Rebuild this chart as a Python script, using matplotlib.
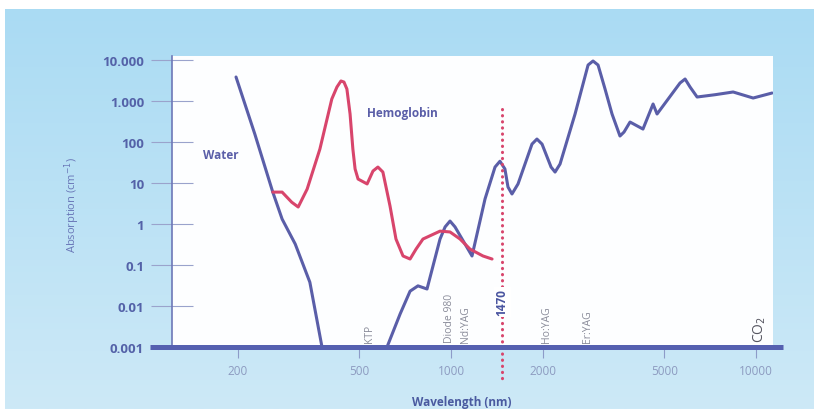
import numpy as np
import matplotlib
matplotlib.use("Agg")
import matplotlib.pyplot as plt

plt.rcParams['font.family'] = ['Open Sans', 'DejaVu Sans']

# water absorption (wavelength nm, absorption cm^-1)
water_nm = [197, 227, 260, 279, 308, 344, 377, 616, 680, 733, 778, 833, 919, 955, 991, 1029,
            1170, 1291, 1392, 1445, 1500, 1535, 1582, 1656, 1840, 1910, 1985, 2125, 2190,
            2274, 2547, 2810, 2917, 3030, 3194, 3367, 3575, 3686, 3857, 4253,
            4590, 4730, 5625, 5845, 6070, 6400, 7330, 8400, 9770, 11270]
water_abs = [3850, 157, 6.0, 1.32, 0.325, 0.038, 0.001, 0.001, 0.0064, 0.023, 0.031, 0.026,
             0.43, 0.85, 1.18, 0.85, 0.166, 4.1, 24.5, 34, 22, 8, 5.4, 9.5, 89, 118, 89,
             24.5, 18.5, 29, 482, 7550, 9460, 7550, 1960, 482, 140, 175, 307, 207,
             845, 482, 2750, 3440, 2190, 1252, 1425, 1660, 1183, 1567]

# hemoglobin absorption
hb_nm = [260, 279, 300, 315, 337, 371, 406, 422, 435, 445, 455, 466, 476, 484, 495, 530,
         554, 575, 597, 630, 659, 695, 733, 767, 808, 919, 991, 1069, 1152, 1271, 1361]
hb_abs = [6.0, 6.0, 3.4, 2.6, 7.1, 67, 1120, 2190, 3080, 2900, 1960, 482, 67, 22, 12.5, 9.5,
          19.6, 24.5, 18.5, 2.75, 0.43, 0.166, 0.14, 0.245, 0.43, 0.67, 0.64, 0.43, 0.245,
          0.166, 0.14]

# lasers
laser_names = ["KTP", "Diode 980", "Nd:YAG", "Ho:YAG", "Er:YAG", "CO$_2$"]
laser_nm = [540, 990, 1115, 2060, 2800, 10300]

yticks = [0.001, 0.01, 0.1, 1, 10, 100, 1000, 10000]
ytick_labels = ["0.001", "0.01", "0.1", "1", "10", "100", "1.000", "10.000"]
xticks = [200, 500, 1000, 2000, 5000, 10000]
xtick_labels = ["200", "500", "1000", "2000", "5000", "10000"]

W, H = 814, 410
fig = plt.figure(figsize=(W / 100, H / 100), dpi=100, facecolor="white")

# light blue backdrop
bg = fig.add_axes([5 / W, 0, 1 - 5 / W, 400 / H])
grad = np.linspace(0, 1, 256)[:, None]
top = np.array([170, 219, 243]) / 255
bot = np.array([205, 233, 247]) / 255
img = top + (bot - top) * grad[:, :, None]
bg.imshow(img, aspect="auto", extent=[0, 1, 0, 1])
bg.set_axis_off()

ax = fig.add_axes([172 / W, 1 - 348 / H, 601 / W, 291 / H])
ax.set_facecolor("#fdfeff")
ax.set_xscale("log")
ax.set_yscale("log")
ax.set_xlim(121.5, 11350)
ax.set_ylim(0.001, 12530)

blue = "#5a5ea8"
red = "#d8456c"
ax.plot(water_nm, water_abs, color=blue, lw=2.2, solid_joinstyle="round", solid_capstyle="round", zorder=3)
ax.plot(hb_nm, hb_abs, color=red, lw=2.2, solid_joinstyle="round", solid_capstyle="round", zorder=3)

# 1470 marker
ax.plot([1470, 1470], [640, 1.6e-4], color="#d8456c", lw=2.2, ls=(0, (0.1, 1.9)),
        dash_capstyle="round", clip_on=False, zorder=4)
ax.text(1470, 0.0125, "1470", rotation=90, ha="center", va="center", fontsize=8.5,
        fontweight="bold", color="#4a55a0", zorder=5,
        bbox=dict(boxstyle="square,pad=0.15", fc="white", ec="none"))

for name, nm in zip(laser_names, laser_nm):
    if name.startswith("CO"):
        ax.text(nm, 0.00135, name, rotation=90, ha="center", va="bottom", fontsize=10,
                color="#555560", zorder=5)
    else:
        ax.text(nm, 0.0013, name, rotation=90, ha="center", va="bottom", fontsize=7.5,
                color="#8a8c9a", zorder=5)

ax.text(154, 10 ** ((348 - 155) / 41 - 3), "Water", fontsize=8.5, fontweight="bold",
        color=blue, va="center", ha="left")
ax.text(530, 10 ** ((348 - 113) / 41 - 3), "Hemoglobin", fontsize=8.5, fontweight="bold",
        color=blue, va="center", ha="left")

# axes styling
for s in ["top", "right", "bottom"]:
    ax.spines[s].set_visible(False)
ax.spines["left"].set_color("#6e78b8")
ax.spines["left"].set_linewidth(1.2)
ax.plot([-0.037, 1.017], [0, 0], transform=ax.transAxes, color="#5560b0", lw=3.6,
        solid_capstyle="butt", clip_on=False, zorder=6)

ax.set_yticks(yticks)
ax.set_yticklabels(ytick_labels)
ax.minorticks_off()
ax.tick_params(axis="y", direction="inout", length=30, width=0.8, color="#9aa3cc",
               pad=5, labelsize=9.5, labelcolor="#5462a8")
for t in ax.get_yticklabels():
    t.set_fontweight("bold")
ax.set_xticks(xticks)
ax.set_xticklabels(xtick_labels)
ax.minorticks_off()
ax.tick_params(axis="x", direction="out", length=8, width=0.8, color="#8d9bc8",
               pad=4, labelsize=8.5, labelcolor="#8d9bc0")

fig.text(72 / W, 1 - 205 / H, "Absorption (cm$^{-1}$)", rotation=90, ha="center",
         va="center", fontsize=8, color="#6a78b8")
fig.text(462 / W, 1 - 409 / H, "Wavelength (nm)", ha="center", va="bottom", fontsize=8.5,
         fontweight="bold", color="#4a5aa0")

fig.savefig("out.png", dpi=100, facecolor="white")
